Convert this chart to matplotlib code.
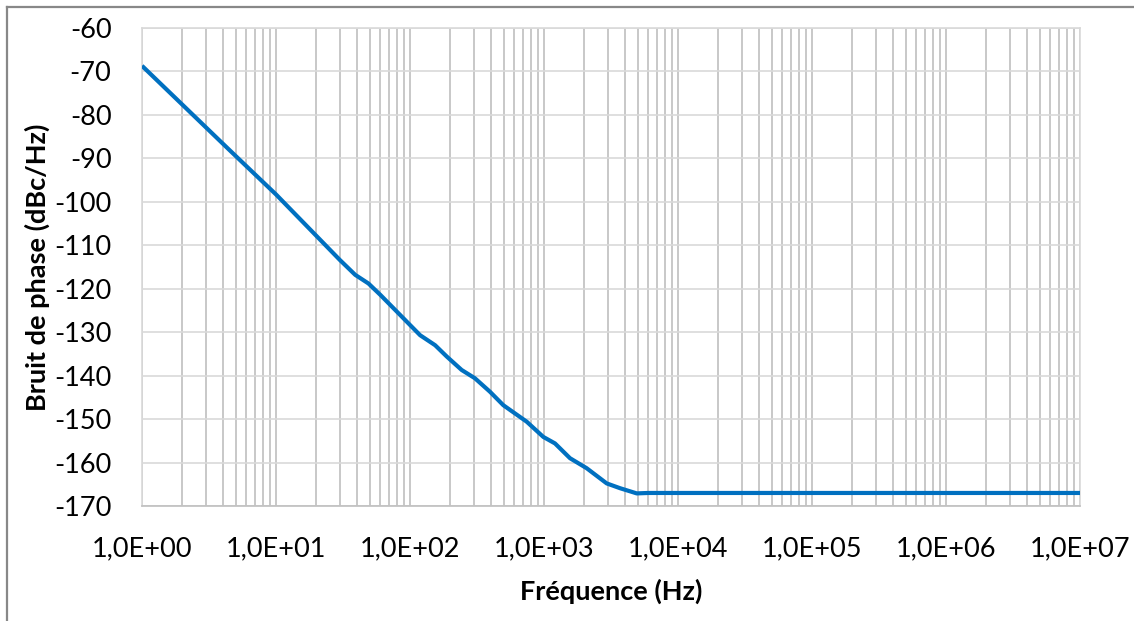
import numpy as np
import matplotlib.pyplot as plt
from matplotlib.ticker import FixedLocator, FuncFormatter
from matplotlib.lines import Line2D

# Bruit de phase
freq = [1, 4.5, 10, 30, 39, 49, 60, 119, 154, 188, 243, 305, 395, 497,
        743, 988, 1208, 1563, 2081, 2937, 3690, 4920, 6000, 1e5, 1e7]
bruit = [-68.7, -88.1, -98.3, -113.4, -116.8, -118.8, -121.4, -130.7, -133.0,
         -135.6, -138.7, -140.6, -143.7, -146.8, -150.6, -154.1, -155.6,
         -159.0, -161.3, -164.8, -165.9, -167.1, -167.0, -167.0, -167.0]
y_ticks = list(range(-170, -59, 10))
x_ticks = [10.0 ** k for k in range(0, 8)]

plt.rcParams['font.family'] = ['Lato', 'DejaVu Sans']
plt.rcParams['axes.unicode_minus'] = False

fig = plt.figure(figsize=(11.34, 6.21), dpi=100)
ax = fig.add_axes([142 / 1134, 1 - 506 / 621, 938 / 1134, 478 / 621])

ax.plot(freq, bruit, color='#0070C0', lw=3.0, solid_capstyle='butt',
        solid_joinstyle='round', zorder=3)

ax.set_xscale('log')
ax.set_xlim(1, 1e7)
ax.set_ylim(-170, -60)
ax.xaxis.set_major_locator(FixedLocator(x_ticks))
minors = [m * 10.0 ** k for k in range(0, 7) for m in range(2, 10)]
ax.xaxis.set_minor_locator(FixedLocator(minors))
ax.xaxis.set_minor_formatter(FuncFormatter(lambda v, p: ''))
ax.xaxis.set_major_formatter(FuncFormatter(
    lambda v, p: '1,0E+%02d' % int(round(np.log10(v)))))
ax.set_yticks(y_ticks)

ax.grid(True, axis='x', which='both', color='#BFBFBF', lw=1.2)
ax.grid(True, axis='y', which='major', color='#D9D9D9', lw=1.2)
ax.set_axisbelow(True)
for s in ['top', 'left', 'right']:
    ax.spines[s].set_color('#D9D9D9')
    ax.spines[s].set_linewidth(1.2)
ax.spines['bottom'].set_color('#BFBFBF')
ax.spines['bottom'].set_linewidth(1.2)

ax.tick_params(axis='both', which='both', length=0, labelsize=19.5, colors='black')
ax.tick_params(axis='x', pad=22)
ax.tick_params(axis='y', pad=22)

ax.set_xlabel('Fréquence (Hz)', fontsize=19.5, fontweight='bold', labelpad=12)
ax.set_ylabel('Bruit de phase (dBc/Hz)', fontsize=19.5, fontweight='bold', labelpad=3)

# bordure du graphique (gauche et haut)
fig.add_artist(Line2D([7 / 1134, 7 / 1134], [0, 1 - 7 / 621], color='#888888', lw=1.6))
fig.add_artist(Line2D([7 / 1134, 1], [1 - 7 / 621, 1 - 7 / 621], color='#888888', lw=1.6))

fig.savefig('out.png', dpi=100)
